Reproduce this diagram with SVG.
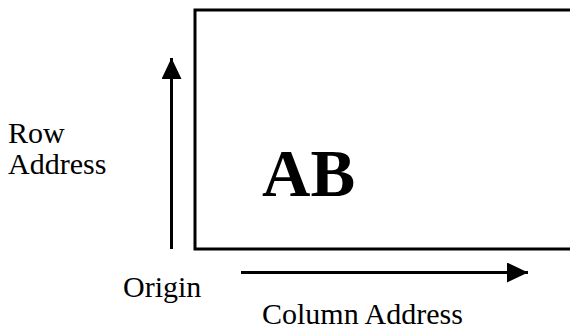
<svg xmlns="http://www.w3.org/2000/svg" width="570" height="332" viewBox="0 0 570 332">
<style>
.t{font-family:"Liberation Serif","Times New Roman",serif;font-size:30px;fill:#000}
.b{font-family:"Liberation Serif","Times New Roman",serif;font-size:67px;font-weight:bold;fill:#000}
.ln{stroke:#000;stroke-width:3;fill:none}
</style>
<defs>
<marker id="ah" viewBox="0 0 21 20" refX="21" refY="10" markerWidth="21" markerHeight="20" markerUnits="userSpaceOnUse" orient="auto">
<path d="M0,0 L21,10 L0,20 Z" fill="#000"/>
</marker>
</defs>
<rect width="570" height="332" fill="#fff"/>
<g id="array">
<path class="ln" d="M580,10 H195 V249 H580"/>
<text class="b" x="262" y="196">AB</text>
</g>
<g id="labels">
<text class="t" x="8" y="143">Row</text>
<text class="t" x="8" y="174">Address</text>
<text class="t" x="123" y="297">Origin</text>
<text class="t" x="262" y="324">Column Address</text>
</g>
<g id="connectors">
<line class="ln" x1="171.5" y1="249" x2="171.5" y2="58" marker-end="url(#ah)"/>
<line class="ln" x1="241" y1="272.5" x2="528" y2="272.5" marker-end="url(#ah)"/>
</g>
</svg>
